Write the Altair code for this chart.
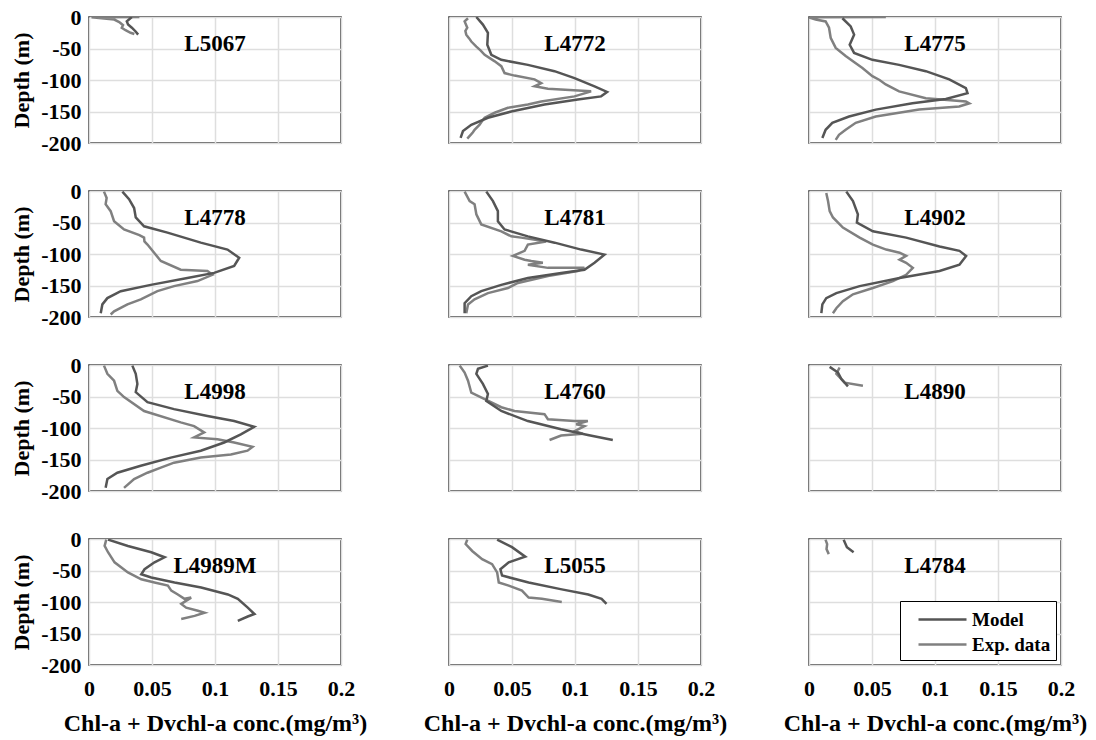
import altair as alt
import pandas as pd

# ---------------- data (conc mg/m3, depth m) ----------------
L5067_model = [(0.034, 0), (0.030, -7), (0.031, -12), (0.034, -17), (0.037, -23), (0.039, -28)]
L5067_exp = [(0.040, 0), (0.002, -0.5), (0.020, -4), (0.024, -8), (0.027, -13), (0.026, -17),
             (0.029, -21), (0.033, -25), (0.036, -27)]

L4772_model = [(0.0217, 0), (0.0269, -12), (0.0309, -25), (0.0304, -44), (0.0336, -60), (0.0415, -68),
               (0.0626, -76), (0.0837, -86), (0.0996, -97), (0.1155, -110), (0.1255, -119), (0.1207, -126),
               (0.1022, -131), (0.0758, -139), (0.0494, -150), (0.0309, -160), (0.0177, -171),
               (0.0111, -181), (0.0092, -192)]
L4772_exp = [(0.0151, -2), (0.0124, -7), (0.0145, -17), (0.0130, -22), (0.0137, -28), (0.0160, -34),
             (0.0177, -39), (0.0217, -47), (0.0250, -53), (0.0283, -60), (0.0360, -70), (0.0415, -78),
             (0.0441, -89), (0.0520, -93), (0.0679, -99), (0.0732, -105), (0.0679, -110), (0.0785, -114),
             (0.1128, -118), (0.0996, -126), (0.0732, -134), (0.0626, -139), (0.0468, -144),
             (0.0362, -152), (0.0283, -160), (0.0260, -166), (0.0243, -171), (0.0203, -179),
             (0.0190, -183), (0.0177, -186), (0.0145, -193)]

L4775_model = [(0.0265, -2), (0.0331, -15), (0.0358, -28), (0.0323, -44), (0.0358, -57), (0.0503, -68),
               (0.0715, -76), (0.0927, -86), (0.1113, -99), (0.1245, -113), (0.1258, -121), (0.1086, -130),
               (0.0821, -137), (0.0530, -147), (0.0318, -158), (0.0185, -168), (0.0132, -179),
               (0.0106, -192)]
L4775_exp = [(0.061, 0), (0.000, -0.5), (0.0053, -4), (0.0132, -7), (0.0159, -17), (0.0172, -33),
             (0.0212, -49), (0.0291, -62), (0.0360, -72), (0.0424, -81), (0.0503, -94), (0.0560, -100),
             (0.0609, -107), (0.0715, -118), (0.0927, -129), (0.1245, -134), (0.1272, -137),
             (0.1192, -142), (0.0874, -147), (0.0530, -158), (0.0371, -168), (0.0291, -179),
             (0.0238, -187), (0.0212, -195)]

L4778_model = [(0.0265, -1), (0.0318, -13), (0.0358, -27), (0.0371, -42), (0.0437, -56), (0.0623, -66),
               (0.0887, -82), (0.1099, -93), (0.1192, -106), (0.1152, -119), (0.0993, -130), (0.0781, -138),
               (0.0490, -149), (0.0252, -159), (0.0146, -170), (0.0106, -180), (0.0093, -194)]
L4778_exp = [(0.0119, -1), (0.0140, -11), (0.0132, -21), (0.0172, -32), (0.0199, -48), (0.0278, -61),
             (0.0400, -70), (0.0437, -74), (0.0440, -80), (0.0464, -85), (0.0517, -98), (0.0570, -111),
             (0.0728, -125), (0.0940, -127), (0.0980, -133), (0.0861, -143), (0.0675, -151),
             (0.0543, -159), (0.0411, -172), (0.0305, -180), (0.0199, -191), (0.0172, -196)]

L4781_model = [(0.0296, -1), (0.0349, -16), (0.0388, -32), (0.0388, -48), (0.0441, -61), (0.0626, -72),
               (0.0838, -82), (0.1049, -93), (0.1234, -101), (0.1155, -114), (0.1075, -125), (0.0890, -130),
               (0.0626, -138), (0.0415, -149), (0.0256, -159), (0.0177, -167), (0.0124, -178),
               (0.0124, -194)]
L4781_exp = [(0.0124, -1), (0.0164, -16), (0.0203, -21), (0.0217, -37), (0.0256, -53), (0.0415, -64),
             (0.0494, -72), (0.0573, -74), (0.0771, -80), (0.0626, -85), (0.0600, -95), (0.0507, -103),
             (0.0600, -109), (0.0653, -111), (0.0745, -114), (0.0626, -117), (0.0785, -122),
             (0.1075, -122), (0.1022, -127), (0.0785, -135), (0.0547, -146), (0.0468, -154),
             (0.0309, -162), (0.0203, -172), (0.0151, -180), (0.0137, -194)]

L4902_model = [(0.0296, -1), (0.0349, -16), (0.0388, -37), (0.0380, -50), (0.0507, -64), (0.0771, -74),
               (0.1036, -88), (0.1194, -95), (0.1247, -103), (0.1194, -117), (0.1036, -127), (0.0719, -138),
               (0.0402, -151), (0.0217, -162), (0.0137, -170), (0.0106, -180), (0.0098, -194)]
L4902_exp = [(0.0137, -3), (0.0151, -16), (0.0164, -32), (0.0190, -42), (0.0269, -58), (0.0402, -74),
             (0.0507, -85), (0.0613, -93), (0.0719, -98), (0.0771, -103), (0.0719, -109), (0.0771, -114),
             (0.0824, -122), (0.0771, -133), (0.0666, -143), (0.0507, -154), (0.0349, -164),
             (0.0269, -175), (0.0217, -186), (0.0190, -194)]

L4998_model = [(0.0344, -1), (0.0371, -14), (0.0384, -30), (0.0371, -43), (0.0464, -59), (0.0675, -70),
               (0.0940, -81), (0.1152, -89), (0.1311, -98), (0.1205, -110), (0.1073, -123), (0.0887, -136),
               (0.0649, -147), (0.0411, -160), (0.0225, -171), (0.0146, -181), (0.0132, -195)]
L4998_exp = [(0.0119, -1), (0.0146, -14), (0.0199, -25), (0.0225, -41), (0.0278, -51), (0.0437, -73),
             (0.0728, -91), (0.0834, -97), (0.0914, -107), (0.0834, -115), (0.1020, -118), (0.1152, -123),
             (0.1298, -130), (0.1258, -136), (0.1126, -142), (0.0887, -147), (0.0675, -155),
             (0.0570, -163), (0.0464, -171), (0.0358, -181), (0.0278, -195)]

L4760_model = [(0.0309, -1), (0.0230, -6), (0.0217, -14), (0.0269, -30), (0.0309, -46), (0.0296, -57),
               (0.0415, -73), (0.0626, -89), (0.0890, -102), (0.1102, -111), (0.1300, -119)]
L4760_exp = [(0.0085, -1), (0.0124, -12), (0.0151, -25), (0.0177, -44), (0.0283, -54), (0.0415, -67),
             (0.0520, -73), (0.0758, -78), (0.0785, -86), (0.0996, -89), (0.1102, -89), (0.1009, -94),
             (0.1075, -97), (0.0996, -105), (0.1062, -109), (0.0890, -112), (0.0798, -119)]

L4890_model = [(0.0164, -3), (0.0230, -12), (0.0256, -22), (0.0309, -34)]
L4890_exp = [(0.0243, -4), (0.0217, -14), (0.0283, -28), (0.0428, -33)]

L4989M_model = [(0.0151, -1), (0.0309, -11), (0.0494, -21), (0.0600, -29), (0.0520, -37), (0.0441, -48),
                (0.0415, -56), (0.0494, -61), (0.0679, -69), (0.0890, -77), (0.1102, -88), (0.1181, -95),
                (0.1260, -109), (0.1313, -119), (0.1260, -123), (0.1181, -130)]
L4989M_exp = [(0.0137, -1), (0.0124, -11), (0.0151, -21), (0.0203, -37), (0.0309, -53), (0.0415, -64),
              (0.0520, -69), (0.0626, -74), (0.0653, -82), (0.0705, -88), (0.0758, -95), (0.0811, -93),
              (0.0732, -103), (0.0771, -109), (0.0864, -114), (0.0917, -117), (0.0838, -122),
              (0.0732, -127)]

L5055_model = [(0.0382, -1), (0.0500, -13), (0.0605, -28), (0.0474, -37), (0.0408, -48), (0.0421, -58),
               (0.0632, -69), (0.0895, -80), (0.1105, -88), (0.1211, -95), (0.1250, -103)]
L5055_exp = [(0.0145, -1), (0.0132, -8), (0.0184, -19), (0.0263, -32), (0.0342, -40), (0.0382, -53),
             (0.0395, -69), (0.0474, -74), (0.0579, -82), (0.0632, -93), (0.0737, -95), (0.0895, -100)]

L4784_model = [(0.0275, -1), (0.0301, -13), (0.0354, -21)]
L4784_exp = [(0.0131, -1), (0.0144, -8), (0.0139, -16), (0.0157, -24)]

station_names = ["L5067", "L4772", "L4775", "L4778", "L4781", "L4902",
                 "L4998", "L4760", "L4890", "L4989M", "L5055", "L4784"]
station_model = [L5067_model, L4772_model, L4775_model, L4778_model, L4781_model, L4902_model,
                 L4998_model, L4760_model, L4890_model, L4989M_model, L5055_model, L4784_model]
station_exp = [L5067_exp, L4772_exp, L4775_exp, L4778_exp, L4781_exp, L4902_exp,
               L4998_exp, L4760_exp, L4890_exp, L4989M_exp, L5055_exp, L4784_exp]

series_names = ["Model", "Exp. data"]
series_colors = ["#555555", "#808080"]
x_ticks = [0, 0.05, 0.1, 0.15, 0.2]
y_ticks = [0, -50, -100, -150, -200]
x_title = "Chl-a + Dvchl-a conc.(mg/m³)"
y_title = "Depth (m)"

FONT = "Liberation Serif"
W, H = 252, 126


def panel(k):
    name = station_names[k]
    row, col = divmod(k, 3)
    recs = []
    for i, (c, d) in enumerate(station_exp[k]):
        recs.append({"series": "Exp. data", "idx": i, "conc": c, "depth": d})
    for i, (c, d) in enumerate(station_model[k]):
        recs.append({"series": "Model", "idx": i, "conc": c, "depth": d})
    df = pd.DataFrame(recs)

    if row == 3:
        xaxis = alt.Axis(values=x_ticks, title=x_title, labelExpr="'' + datum.value",
                         ticks=False, domain=False, labelPadding=13, titlePadding=12,
                         labelFontSize=22, titleFontSize=24, labelFlush=False)
    else:
        xaxis = alt.Axis(values=x_ticks, title=None, labels=False, ticks=False, domain=False)
    if col == 0:
        yaxis = alt.Axis(values=y_ticks, title=y_title, labelExpr="'' + datum.value",
                         ticks=False, domain=False, labelPadding=8, titlePadding=7,
                         labelFontSize=22, titleFontSize=22)
    else:
        yaxis = alt.Axis(values=y_ticks, title=None, labels=False, ticks=False, domain=False)

    if k == 11:
        legend = alt.Legend(title=None, orient="bottom-right", offset=5, strokeColor="black",
                            fillColor="white", padding=5, symbolType="M-3,0H1", symbolSize=576,
                            symbolStrokeWidth=2.5, labelFont=FONT, labelFontSize=19,
                            labelFontWeight="bold", labelColor="black", rowPadding=1,
                            labelOffset=4, symbolOffset=36, cornerRadius=0)
    else:
        legend = None

    lines = alt.Chart(df).mark_line(strokeWidth=2.5, clip=True).encode(
        x=alt.X("conc:Q", scale=alt.Scale(domain=[0, 0.2], nice=False, zero=False), axis=xaxis),
        y=alt.Y("depth:Q", scale=alt.Scale(domain=[-200, 0], nice=False, zero=False), axis=yaxis),
        color=alt.Color("series:N", scale=alt.Scale(domain=series_names, range=series_colors),
                        legend=legend),
        order=alt.Order("idx:Q"),
    )
    label = alt.Chart(pd.DataFrame({"t": [name]})).mark_text(
        font=FONT, fontSize=23, fontWeight="bold", color="black", align="center", baseline="middle"
    ).encode(x=alt.value(W / 2), y=alt.value(27), text="t:N")
    return alt.layer(lines, label).properties(width=W, height=H)


chart = alt.concat(
    *[panel(k) for k in range(12)], columns=3, spacing={"row": 48, "column": 108}
).properties(
    bounds="flush",
    padding={"left": 9, "top": 5, "right": 5, "bottom": 3},
    background="white",
).resolve_scale(color="independent").resolve_legend(color="independent").configure_view(
    stroke="#262626", strokeWidth=1.5
).configure_axis(
    grid=True, gridColor="#dedede", gridWidth=1.5, labelFont=FONT, titleFont=FONT,
    labelFontWeight="bold", titleFontWeight="bold", labelColor="black", titleColor="black",
    minExtent=0
)

chart.save("out.html", embed_options={"renderer": "svg", "actions": False})
